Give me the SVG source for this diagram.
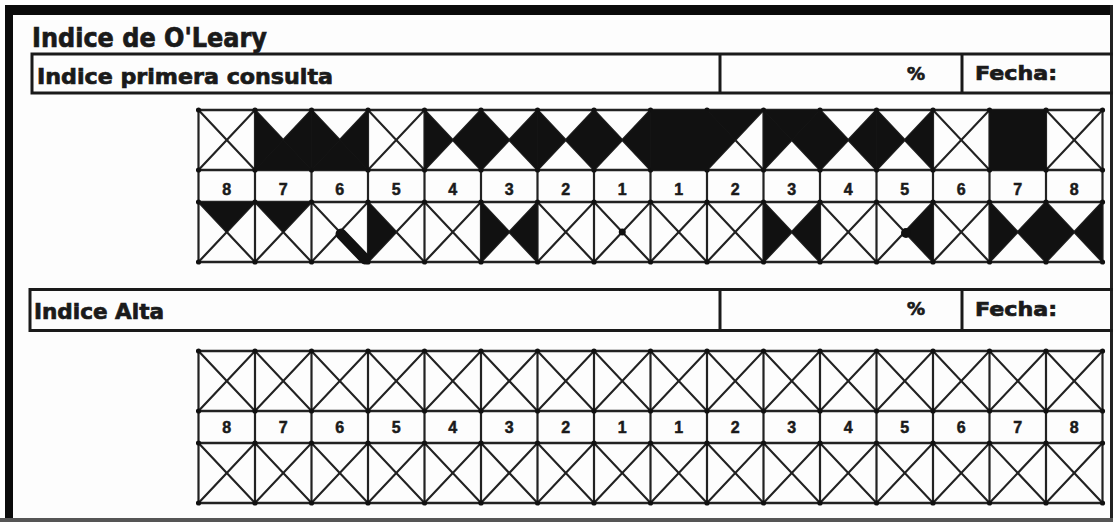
<svg xmlns="http://www.w3.org/2000/svg" xmlns:xlink="http://www.w3.org/1999/xlink" width="1113" height="522" viewBox="0 0 1113 522">
<style>
.ln{fill:none;stroke:#222;stroke-width:2.2}
.hl{fill:none;stroke:#222;stroke-width:2.4;marker-start:url(#dot);marker-mid:url(#dot);marker-end:url(#dot)}
.bx{fill:none;stroke:#1a1a1a;stroke-width:3}
.f{fill:#111}
.t{font-family:"DejaVu Sans","Liberation Sans",sans-serif;font-weight:bold;fill:#1a1a1a;stroke:#1a1a1a;stroke-width:0.7}
.n{font-family:"Liberation Sans",Arial,sans-serif;font-weight:bold;font-size:16px;fill:#1a1a1a;stroke:#1a1a1a;stroke-width:0.5;text-anchor:middle}
</style>
<defs>
<marker id="dot" viewBox="0 0 6 6" refX="3" refY="3" markerWidth="6" markerHeight="6" markerUnits="userSpaceOnUse"><circle cx="3" cy="3" r="2.6" fill="#111"/></marker>
<path id="tT" d="M0,0H56.5L28.25,30Z"/>
<path id="tB" d="M0,60H56.5L28.25,30Z"/>
<path id="tL" d="M0,0V60L28.25,30Z"/>
<path id="tR" d="M56.5,0V60L28.25,30Z"/>
<rect id="full" width="56.5" height="60"/>
</defs>
<rect width="1113" height="522" fill="#fdfdfd"/>
<g id="frame">
<rect x="5" y="5" width="1108" height="10" fill="#0a0a0a"/>
<rect x="5" y="5" width="8" height="517" fill="#0a0a0a"/>
<rect x="1110" y="5" width="3" height="517" fill="#222"/>
<rect x="0" y="518" width="1113" height="4" fill="#555"/>
</g>
<g id="title"><text class="t" x="32" y="47" font-size="26" textLength="235" lengthAdjust="spacingAndGlyphs">Indice de O'Leary</text></g>
<g id="header1">
<rect class="bx" x="32" y="54" width="1095" height="39"/>
<line class="bx" x1="720" y1="54" x2="720" y2="93"/>
<line class="bx" x1="962" y1="54" x2="962" y2="93"/>
<text class="t" x="37" y="84" font-size="21" textLength="296" lengthAdjust="spacingAndGlyphs">Indice primera consulta</text>
<text class="t" x="916" y="80" font-size="18" text-anchor="middle">%</text>
<text class="t" x="975" y="80" font-size="19.5" textLength="82" lengthAdjust="spacingAndGlyphs">Fecha:</text>
</g>
<g id="grid1">
<path class="ln" d="M198.5,110V262M255,110V262M311.5,110V262M368,110V262M424.5,110V262M481,110V262M537.5,110V262M594,110V262M650.5,110V262M707,110V262M763.5,110V262M820,110V262M876.5,110V262M933,110V262M989.5,110V262M1046,110V262M1102.5,110V262"/>
<path class="ln" d="M198.5,110l56.5,60l56.5,-60l56.5,60l56.5,-60l56.5,60l56.5,-60l56.5,60l56.5,-60l56.5,60l56.5,-60l56.5,60l56.5,-60l56.5,60l56.5,-60l56.5,60l56.5,-60"/>
<path class="ln" d="M198.5,170l56.5,-60l56.5,60l56.5,-60l56.5,60l56.5,-60l56.5,60l56.5,-60l56.5,60l56.5,-60l56.5,60l56.5,-60l56.5,60l56.5,-60l56.5,60l56.5,-60l56.5,60"/>
<path class="ln" d="M198.5,202l56.5,60l56.5,-60l56.5,60l56.5,-60l56.5,60l56.5,-60l56.5,60l56.5,-60l56.5,60l56.5,-60l56.5,60l56.5,-60l56.5,60l56.5,-60l56.5,60l56.5,-60"/>
<path class="ln" d="M198.5,262l56.5,-60l56.5,60l56.5,-60l56.5,60l56.5,-60l56.5,60l56.5,-60l56.5,60l56.5,-60l56.5,60l56.5,-60l56.5,60l56.5,-60l56.5,60l56.5,-60l56.5,60"/>
<path class="hl" d="M198.5,110h56.5h56.5h56.5h56.5h56.5h56.5h56.5h56.5h56.5h56.5h56.5h56.5h56.5h56.5h56.5h56.5"/>
<path class="hl" d="M198.5,170h56.5h56.5h56.5h56.5h56.5h56.5h56.5h56.5h56.5h56.5h56.5h56.5h56.5h56.5h56.5h56.5"/>
<path class="hl" d="M198.5,202h56.5h56.5h56.5h56.5h56.5h56.5h56.5h56.5h56.5h56.5h56.5h56.5h56.5h56.5h56.5h56.5"/>
<path class="hl" d="M198.5,262h56.5h56.5h56.5h56.5h56.5h56.5h56.5h56.5h56.5h56.5h56.5h56.5h56.5h56.5h56.5h56.5"/>
<g id="grid1-fills">
<use href="#tL" x="255" y="110" class="f"/><use href="#tB" x="255" y="110" class="f"/><use href="#tR" x="255" y="110" class="f"/>
<use href="#tL" x="311.5" y="110" class="f"/><use href="#tB" x="311.5" y="110" class="f"/><use href="#tR" x="311.5" y="110" class="f"/>
<use href="#tL" x="424.5" y="110" class="f"/><use href="#tR" x="424.5" y="110" class="f"/>
<use href="#tL" x="481" y="110" class="f"/><use href="#tR" x="481" y="110" class="f"/>
<use href="#tL" x="537.5" y="110" class="f"/><use href="#tR" x="537.5" y="110" class="f"/>
<use href="#tL" x="594" y="110" class="f"/><use href="#tR" x="594" y="110" class="f"/>
<use href="#full" x="650.5" y="110" class="f"/>
<use href="#tT" x="707" y="110" class="f"/><use href="#tL" x="707" y="110" class="f"/>
<use href="#tT" x="763.5" y="110" class="f"/><use href="#tL" x="763.5" y="110" class="f"/><use href="#tR" x="763.5" y="110" class="f"/>
<use href="#tL" x="820" y="110" class="f"/><use href="#tR" x="820" y="110" class="f"/>
<use href="#tL" x="876.5" y="110" class="f"/><use href="#tR" x="876.5" y="110" class="f"/>
<use href="#full" x="989.5" y="110" class="f"/>
<use href="#tT" x="198.5" y="202" class="f"/>
<use href="#tT" x="255" y="202" class="f"/>
<line x1="341" y1="234" x2="365" y2="259" stroke="#111" stroke-width="11" stroke-linecap="round"/>
<use href="#tL" x="368" y="202" class="f"/>
<use href="#tL" x="481" y="202" class="f"/><use href="#tR" x="481" y="202" class="f"/>
<circle cx="622.25" cy="232" r="3.5" class="f"/>
<use href="#tL" x="763.5" y="202" class="f"/><use href="#tR" x="763.5" y="202" class="f"/>
<use href="#tR" x="876.5" y="202" class="f"/><circle cx="906" cy="233" r="5" class="f"/>
<use href="#tL" x="989.5" y="202" class="f"/><use href="#tR" x="989.5" y="202" class="f"/>
<use href="#tL" x="1046" y="202" class="f"/><use href="#tR" x="1046" y="202" class="f"/>
</g>
<g id="grid1-numbers">
<text class="n" x="226.75" y="195">8</text><text class="n" x="283.25" y="195">7</text><text class="n" x="339.75" y="195">6</text><text class="n" x="396.25" y="195">5</text><text class="n" x="452.75" y="195">4</text><text class="n" x="509.25" y="195">3</text><text class="n" x="565.75" y="195">2</text><text class="n" x="622.25" y="195">1</text><text class="n" x="678.75" y="195">1</text><text class="n" x="735.25" y="195">2</text><text class="n" x="791.75" y="195">3</text><text class="n" x="848.25" y="195">4</text><text class="n" x="904.75" y="195">5</text><text class="n" x="961.25" y="195">6</text><text class="n" x="1017.75" y="195">7</text><text class="n" x="1074.25" y="195">8</text>
</g>
</g>
<g id="header2">
<rect class="bx" x="30" y="289.5" width="1097" height="41"/>
<line class="bx" x1="720" y1="289.5" x2="720" y2="330.5"/>
<line class="bx" x1="962" y1="289.5" x2="962" y2="330.5"/>
<text class="t" x="34" y="319" font-size="21" textLength="130" lengthAdjust="spacingAndGlyphs">Indice Alta</text>
<text class="t" x="916" y="315" font-size="18" text-anchor="middle">%</text>
<text class="t" x="975" y="316" font-size="19.5" textLength="82" lengthAdjust="spacingAndGlyphs">Fecha:</text>
</g>
<g id="grid2">
<path class="ln" d="M198.5,351V503M255,351V503M311.5,351V503M368,351V503M424.5,351V503M481,351V503M537.5,351V503M594,351V503M650.5,351V503M707,351V503M763.5,351V503M820,351V503M876.5,351V503M933,351V503M989.5,351V503M1046,351V503M1102.5,351V503"/>
<path class="ln" d="M198.5,351l56.5,60l56.5,-60l56.5,60l56.5,-60l56.5,60l56.5,-60l56.5,60l56.5,-60l56.5,60l56.5,-60l56.5,60l56.5,-60l56.5,60l56.5,-60l56.5,60l56.5,-60"/>
<path class="ln" d="M198.5,411l56.5,-60l56.5,60l56.5,-60l56.5,60l56.5,-60l56.5,60l56.5,-60l56.5,60l56.5,-60l56.5,60l56.5,-60l56.5,60l56.5,-60l56.5,60l56.5,-60l56.5,60"/>
<path class="ln" d="M198.5,443l56.5,60l56.5,-60l56.5,60l56.5,-60l56.5,60l56.5,-60l56.5,60l56.5,-60l56.5,60l56.5,-60l56.5,60l56.5,-60l56.5,60l56.5,-60l56.5,60l56.5,-60"/>
<path class="ln" d="M198.5,503l56.5,-60l56.5,60l56.5,-60l56.5,60l56.5,-60l56.5,60l56.5,-60l56.5,60l56.5,-60l56.5,60l56.5,-60l56.5,60l56.5,-60l56.5,60l56.5,-60l56.5,60"/>
<path class="hl" d="M198.5,351h56.5h56.5h56.5h56.5h56.5h56.5h56.5h56.5h56.5h56.5h56.5h56.5h56.5h56.5h56.5h56.5"/>
<path class="hl" d="M198.5,411h56.5h56.5h56.5h56.5h56.5h56.5h56.5h56.5h56.5h56.5h56.5h56.5h56.5h56.5h56.5h56.5"/>
<path class="hl" d="M198.5,443h56.5h56.5h56.5h56.5h56.5h56.5h56.5h56.5h56.5h56.5h56.5h56.5h56.5h56.5h56.5h56.5"/>
<path class="hl" d="M198.5,503h56.5h56.5h56.5h56.5h56.5h56.5h56.5h56.5h56.5h56.5h56.5h56.5h56.5h56.5h56.5h56.5"/>
<g id="grid2-numbers">
<text class="n" x="226.75" y="433">8</text><text class="n" x="283.25" y="433">7</text><text class="n" x="339.75" y="433">6</text><text class="n" x="396.25" y="433">5</text><text class="n" x="452.75" y="433">4</text><text class="n" x="509.25" y="433">3</text><text class="n" x="565.75" y="433">2</text><text class="n" x="622.25" y="433">1</text><text class="n" x="678.75" y="433">1</text><text class="n" x="735.25" y="433">2</text><text class="n" x="791.75" y="433">3</text><text class="n" x="848.25" y="433">4</text><text class="n" x="904.75" y="433">5</text><text class="n" x="961.25" y="433">6</text><text class="n" x="1017.75" y="433">7</text><text class="n" x="1074.25" y="433">8</text>
</g>
</g>
</svg>
